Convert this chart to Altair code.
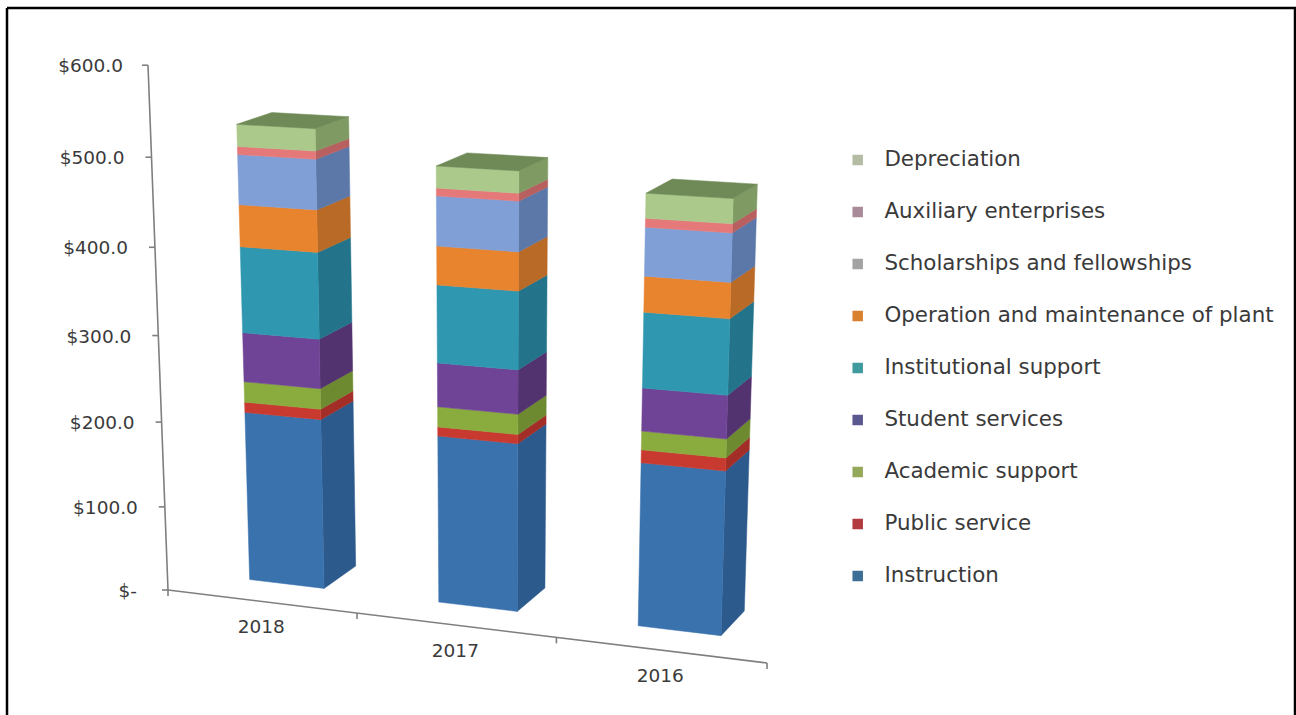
import altair as alt
import pandas as pd

# Expense categories, bottom of the stack first
categories = [
    "Instruction", "Public service", "Academic support", "Student services",
    "Institutional support", "Operation and maintenance of plant",
    "Scholarships and fellowships", "Auxiliary enterprises", "Depreciation",
]
years = ["2018", "2017", "2016"]
values_2018 = [201, 12, 24, 57, 98.5, 47.5, 56, 9, 24.5]
values_2017 = [195, 10.5, 23, 50, 87.5, 43, 55, 8.5, 24]
values_2016 = [187, 14.5, 21, 48, 83, 39, 52.5, 9.5, 26.5]
value_ticks = [0, 100, 200, 300, 400, 500, 600]
value_labels = ["$-", "$100.0", "$200.0", "$300.0", "$400.0", "$500.0", "$600.0"]

# Face colours of the columns and the muted swatches of the key
front_colors = ["#3a72ae", "#c8392f", "#8aab3e", "#6f4496", "#2f97b0",
                "#e8832e", "#7f9fd6", "#e5797a", "#abc98a"]
side_colors = ["#2c5a8c", "#a32e28", "#6d8a30", "#533270", "#23748a",
               "#b86a26", "#5c78a8", "#b85f60", "#7f9a62"]
top_color = "#6f8a56"
key_colors = ["#3c6e96", "#b33a3e", "#94a85a", "#5b5890", "#3f9a9e",
              "#d9812f", "#a3a3a3", "#a88a99", "#b4bda4"]

FONT = "DejaVu Sans"
TEXT = "#3a3a3a"
AXIS = "#7f7f7f"

# Perspective camera: three vanishing points and the axis origin on the page
ORIGIN = (168.0, 590.0)
VP_CATEGORY = (-6913.0, -273.0)
VP_DEPTH = (1650.0, -350.0)
VP_VALUE = (488.0, 8990.0)
K_CATEGORY, K_VALUE = -0.026, -0.000098
BAR_LEFT, BAR_RIGHT = 0.30, 0.70
DEPTH_FRONT, DEPTH_BACK = 0.0184, 0.0428


def project(cat, depth, value):
    """Map (category position, depth, dollars) to page coordinates."""
    a, c = K_CATEGORY * cat, K_VALUE * value
    w = 1 + a + depth + c
    px = (a * VP_CATEGORY[0] + depth * VP_DEPTH[0] + c * VP_VALUE[0] + ORIGIN[0]) / w
    py = (a * VP_CATEGORY[1] + depth * VP_DEPTH[1] + c * VP_VALUE[1] + ORIGIN[1]) / w
    return px, py


poly_rows = []


def add_poly(pid, fill, corners):
    for k, (c, d, v) in enumerate(corners):
        px, py = project(c, d, v)
        poly_rows.append({"poly": pid, "k": k, "px": px, "py": py, "fill": fill})


for b, vals in enumerate([values_2018, values_2017, values_2016]):
    l, r = b + BAR_LEFT, b + BAR_RIGHT
    low = 0.0
    for s, v in enumerate(vals):
        high = low + v
        add_poly(f"side-{b}-{s}", side_colors[s], [
            (r, DEPTH_FRONT, low), (r, DEPTH_BACK, low),
            (r, DEPTH_BACK, high), (r, DEPTH_FRONT, high)])
        add_poly(f"front-{b}-{s}", front_colors[s], [
            (l, DEPTH_FRONT, low), (r, DEPTH_FRONT, low),
            (r, DEPTH_FRONT, high), (l, DEPTH_FRONT, high)])
        low = high
    add_poly(f"top-{b}", top_color, [
        (l, DEPTH_FRONT, low), (r, DEPTH_FRONT, low),
        (r, DEPTH_BACK, low), (l, DEPTH_BACK, low)])

polys = pd.DataFrame(poly_rows)

# Slanted axes, their ticks and labels
rule_rows = []


def add_rule(p, q, color=AXIS, width=1.6):
    rule_rows.append({"x1": p[0], "y1": p[1], "x2": q[0], "y2": q[1],
                      "color": color, "width": width})


add_rule(project(0, 0, 0), project(0, 0, 600))
add_rule(project(0, 0, 0), project(3, 0, 0))
value_text = []
for tick, label in zip(value_ticks, value_labels):
    p = project(0, 0, tick)
    add_rule(p, (p[0] - 6, p[1]))
    # The zero label carries extra padding on its right, as a currency format does
    gap = 31 if tick == 0 else (25 if tick == 600 else 27)
    value_text.append({"px": p[0] - gap, "py": p[1] + 1, "label": label})
for c in range(0, 4):
    p = project(c, 0, 0)
    add_rule(p, (p[0], p[1] + 6))
year_text = []
for i, y in enumerate(years):
    p = project(i + 0.5, 0, 0)
    year_text.append({"px": p[0], "py": p[1] + 26, "label": y})

# Frame around the whole figure
frame_rows = [
    {"x1": 7, "y1": 8, "x2": 1296, "y2": 8, "color": "#000000", "width": 2.5},
    {"x1": 7, "y1": 8, "x2": 7, "y2": 715, "color": "#000000", "width": 2.5},
    {"x1": 1295, "y1": 8, "x2": 1295, "y2": 715, "color": "#000000", "width": 2.5},
]
rules = pd.DataFrame(rule_rows + frame_rows)

X = alt.X("px:Q", scale=alt.Scale(domain=[0, 1296]), axis=None)
Y = alt.Y("py:Q", scale=alt.Scale(domain=[715, 0]), axis=None)

faces = alt.Chart(polys).mark_line(strokeWidth=0.5, interpolate="linear-closed").encode(
    x=X, y=Y,
    detail="poly:N",
    order="k:Q",
    fill=alt.Fill("fill:N", scale=None),
    stroke=alt.Stroke("fill:N", scale=None),
)

lines = alt.Chart(rules).mark_rule().encode(
    x=alt.X("x1:Q", scale=alt.Scale(domain=[0, 1296]), axis=None),
    x2="x2:Q",
    y=alt.Y("y1:Q", scale=alt.Scale(domain=[715, 0]), axis=None),
    y2="y2:Q",
    color=alt.Color("color:N", scale=None),
    strokeWidth=alt.StrokeWidth("width:Q", scale=None),
)

value_marks = alt.Chart(pd.DataFrame(value_text)).mark_text(
    align="right", baseline="middle", font=FONT, fontSize=18.5, color=TEXT
).encode(x=X, y=Y, text="label:N")

year_marks = alt.Chart(pd.DataFrame(year_text)).mark_text(
    align="center", baseline="middle", font=FONT, fontSize=18.5, color=TEXT
).encode(x=X, y=Y, text="label:N")

# Key: listed top to bottom in reverse stacking order
key_order = categories[::-1]
key = alt.Chart(pd.DataFrame({"category": categories})).mark_square(size=0).encode(
    x=alt.value(0), y=alt.value(0),
    color=alt.Color(
        "category:N",
        scale=alt.Scale(domain=key_order, range=key_colors[::-1]),
        legend=alt.Legend(
            orient="none", legendX=847, legendY=150, title=None,
            symbolType="square", symbolSize=110, symbolOpacity=1, symbolStrokeWidth=0,
            labelFont=FONT, labelFontSize=21.4, labelColor=TEXT, labelLimit=600,
            labelOffset=16, clipHeight=20, rowPadding=30,
        ),
    ),
)

chart = alt.layer(faces, lines, value_marks, year_marks, key).properties(
    width=1296, height=715, padding=0,
    autosize=alt.AutoSizeParams(type="none"),
    background="white",
).configure_view(stroke=None)

chart.save("out.html", embed_options={"renderer": "svg", "actions": False})
